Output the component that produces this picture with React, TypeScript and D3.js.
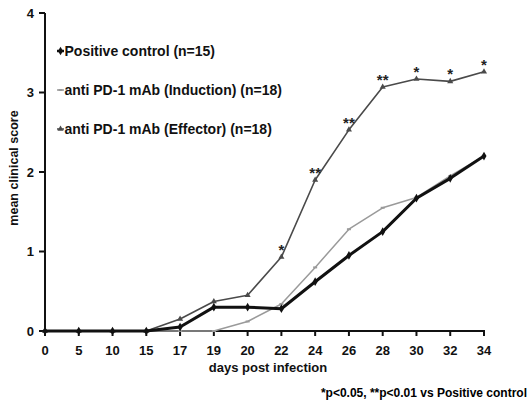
import * as d3 from 'd3';

const days = ['0', '5', '10', '15', '17', '19', '20', '22', '24', '26', '28', '30', '32', '34'];
const positiveControl = [0, 0, 0, 0, 0.05, 0.3, 0.3, 0.28, 0.62, 0.95, 1.25, 1.67, 1.92, 2.2];
const induction = [0, 0, 0, 0, 0, 0, 0.12, 0.34, 0.8, 1.28, 1.55, 1.68, 1.95, 2.2];
const effector = [0, 0, 0, 0, 0.15, 0.37, 0.45, 0.93, 1.9, 2.53, 3.07, 3.17, 3.14, 3.26];
const stars = ['', '', '', '', '', '', '', '*', '**', '**', '**', '*', '*', '*'];
const yTicks = [0, 1, 2, 3, 4];

const series = [
  { name: 'Positive control (n=15)', values: positiveControl, color: '#111', width: 3, marker: 'diamond' },
  { name: 'anti PD-1 mAb (Induction) (n=18)', values: induction, color: '#9a9a9a', width: 1.5, marker: 'dash' },
  { name: 'anti PD-1 mAb (Effector) (n=18)', values: effector, color: '#4a4a4a', width: 1.6, marker: 'triangle' },
];

const font = '"Liberation Sans", Arial, sans-serif';

const App = () => {
  const width = 531;
  const height = 408;
  const x = d3.scalePoint<string>().domain(days).range([45, 484]);
  const y = d3.scaleLinear().domain([0, 4]).range([331, 13]);

  const line = d3
    .line<number>()
    .x((d, i) => x(days[i]) as number)
    .y((d) => y(d));

  const marker = (type: string, cx: number, cy: number, color: string, key: string) => {
    if (type === 'diamond') {
      const s = d3.symbol(d3.symbolDiamond, 22)();
      return <path key={key} d={s as string} transform={`translate(${cx},${cy})`} fill={color} />;
    }
    if (type === 'triangle') {
      const s = d3.symbol(d3.symbolTriangle, 16)();
      return <path key={key} d={s as string} transform={`translate(${cx},${cy})`} fill={color} />;
    }
    return <rect key={key} x={cx - 2} y={cy - 1} width={4} height={2} fill={color} />;
  };

  return (
    <div style={{ position: 'absolute', left: 0, top: 0 }}>
      <svg width={width} height={height} style={{ display: 'block', background: '#fff' }}>
        {/* axes */}
        <g stroke="#111" strokeWidth={2} fill="none">
          <line x1={45} x2={45} y1={y(4)} y2={y(0)} />
          <line x1={45} x2={485} y1={y(0)} y2={y(0)} />
          {yTicks.map((t) => (
            <line key={t} x1={39} x2={45} y1={y(t)} y2={y(t)} />
          ))}
          {days.map((d) => (
            <line key={d} x1={x(d)} x2={x(d)} y1={y(0)} y2={y(0) + 5} />
          ))}
        </g>
        <g fontFamily={font} fontWeight="bold" fontSize={13} fill="#111">
          {yTicks.map((t) => (
            <text key={t} x={34} y={y(t) + 4.5} textAnchor="end">
              {t}
            </text>
          ))}
          {days.map((d) => (
            <text key={d} x={x(d)} y={355} textAnchor="middle">
              {d}
            </text>
          ))}
          <text x={268} y={372} textAnchor="middle">
            days post infection
          </text>
          <text transform="translate(18,168) rotate(-90)" textAnchor="middle" fontSize={12.5}>
            mean clinical score
          </text>
          <text x={527} y={397} textAnchor="end" fontSize={12} fill="#000">
            *p&lt;0.05, **p&lt;0.01 vs Positive control
          </text>
        </g>

        {/* series */}
        {[1, 2, 0].map((si) => {
          const s = series[si];
          return (
            <g key={s.name}>
              <path d={line(s.values) as string} fill="none" stroke={s.color} strokeWidth={s.width} strokeLinejoin="round" />
              {s.values.map((v, i) => marker(s.marker, x(days[i]) as number, y(v), s.color, `${si}-${i}`))}
            </g>
          );
        })}

        {/* significance stars */}
        <g fontFamily={font} fontWeight="bold" fontSize={15} fill="#222" textAnchor="middle">
          {stars.map((st, i) =>
            st ? (
              <text key={i} x={x(days[i])} y={y(effector[i]) - 2}>
                {st}
              </text>
            ) : null
          )}
        </g>

        {/* legend */}
        <g fontFamily={font} fontWeight="bold" fontSize={14} fill="#111">
          {series.map((s, i) => {
            const ly = 51 + i * 39;
            return (
              <g key={s.name}>
                <line x1={57} x2={64} y1={ly} y2={ly} stroke={s.color} strokeWidth={s.width === 3 ? 2.5 : 1.5} />
                {marker(s.marker, 60.5, ly, s.color, `leg-${i}`)}
                <text x={64.5} y={ly + 5}>
                  {s.name}
                </text>
              </g>
            );
          })}
        </g>
      </svg>
    </div>
  );
};

export default App;
